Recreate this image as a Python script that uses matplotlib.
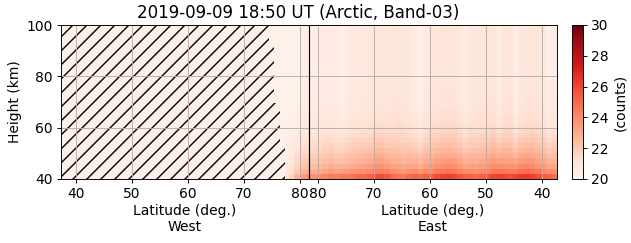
import numpy as np
import matplotlib
matplotlib.use("Agg")
import matplotlib.pyplot as plt
import matplotlib.transforms as mtransforms
from matplotlib.colors import Normalize

# ---------------- data ----------------
turn_lat = 81.6  # highest latitude of the track (pole line)

heights = [41, 43, 45, 47, 49, 51, 53, 55, 57, 59, 61, 63, 65, 67, 69,
           71, 73, 75, 77, 79, 81, 83, 85, 87, 89, 91, 93, 95, 97, 99]
profile = [1.00, 0.72, 0.58, 0.48, 0.40, 0.33, 0.27, 0.22, 0.17, 0.13,
           0.10, 0.07, 0.05, 0.035, 0.025, 0.015, 0.01, 0.0, 0.0, 0.0,
           0.0, 0.0, 0.0, 0.0, 0.0, 0.0, 0.0, 0.0, 0.0, 0.0]

west_lat = [77.5, 78.5, 79.5, 80.5, 81.5]
west_top = [20.3, 20.3, 20.3, 20.4, 20.4]
west_bottom = [21.0, 21.7, 22.7, 23.5, 23.8]

east_lat = [80.7, 79.7, 78.7, 77.7, 76.7, 75.7, 74.7, 73.7, 72.7, 71.7,
            70.7, 69.7, 68.7, 67.7, 66.7, 65.7, 64.7, 63.7, 62.7, 61.7,
            60.7, 59.7, 58.7, 57.7, 56.7, 55.7, 54.7, 53.7, 52.7, 51.7,
            50.7, 49.7, 48.7, 47.7, 46.7, 45.7, 44.7, 43.7, 42.7, 41.7,
            40.7, 39.7, 38.7, 37.7]
east_top = [20.5, 20.5, 20.6, 20.6, 20.5, 20.3, 20.6, 20.7, 20.7, 20.8,
            20.8, 20.9, 20.9, 20.8, 20.9, 21.0, 20.9, 20.8, 20.5, 20.3,
            20.7, 20.9, 20.9, 21.0, 21.0, 21.0, 20.8, 20.5, 20.8, 20.9,
            20.9, 20.9, 21.0, 20.6, 20.9, 21.0, 20.4, 20.8, 20.9, 21.0,
            20.9, 20.8, 20.4, 20.7]
east_bottom = [23.8, 24.0, 24.2, 24.5, 24.3, 24.6, 24.5, 24.8, 25.0, 25.0,
               25.3, 25.8, 25.8, 25.5, 25.0, 24.8, 24.6, 25.0, 25.2, 25.0,
               25.3, 25.4, 25.8, 26.0, 26.2, 26.0, 25.6, 25.3, 25.2, 25.0,
               25.3, 25.6, 26.0, 26.2, 26.0, 25.8, 26.0, 26.3, 26.4, 26.2,
               25.8, 25.5, 25.3, 25.0]

# masked (hatched) west region: boundary latitude per height band
hatch_heights = [40, 52.5, 69.6, 94, 100]
hatch_edge_lat = [77.4, 76.4, 75.4, 74.4, 74.4]

west_ticks = [40, 50, 60, 70, 80]
east_ticks = [80, 70, 60, 50, 40]

vmin, vmax = 20, 30
cbar_ticks = [20, 22, 24, 26, 28, 30]

# ---------------- build grid ----------------
path_x = np.concatenate([np.array(west_lat), 2 * turn_lat - np.array(east_lat)])
top = np.concatenate([west_top, east_top])
bottom = np.concatenate([west_bottom, east_bottom])
prof = np.array(profile)
Z = top[None, :] + (bottom - top)[None, :] * prof[:, None]

# ---------------- figure ----------------
dpi = 84
scale = 100 / dpi
plt.rcParams["font.size"] = 10 * scale
plt.rcParams["hatch.linewidth"] = 1.2

fig = plt.figure(figsize=(631 / dpi, 243 / dpi), dpi=dpi)
ax = fig.add_axes([61 / 631, 1 - 179 / 243, 496 / 631, 154 / 243])
cax = fig.add_axes([572 / 631, 1 - 179 / 243, 11 / 631, 154 / 243])

cmap = plt.get_cmap("Reds")
norm = Normalize(vmin=vmin, vmax=vmax)
ax.set_facecolor(cmap(norm(20.3)))

mesh = ax.pcolormesh(path_x, heights, Z, cmap=cmap, norm=norm, shading="nearest")

ax.fill_betweenx(hatch_heights, 30, hatch_edge_lat, step="post",
                 facecolor=cmap(norm(20.3)), edgecolor="black", linewidth=0,
                 hatch="//", zorder=1.2)

x_left = 37.3
x_right = 2 * turn_lat - 37.3
ax.set_xlim(x_left, x_right)
ax.set_ylim(40, 100)
ax.set_yticks([40, 60, 80, 100])

xt = list(west_ticks) + [2 * turn_lat - v for v in east_ticks]
xl = [str(v) for v in west_ticks] + [str(v) for v in east_ticks]
ax.set_xticks(xt)
ax.set_xticklabels(xl)
ax.grid(True)
ax.axvline(turn_lat, color="black", linewidth=1.0, zorder=3)
ax.set_ylabel("Height (km)")

trans = mtransforms.blended_transform_factory(ax.transData, fig.transFigure)
ax.text((x_left + turn_lat) / 2, 1 - 219 / 243, "Latitude (deg.)\nWest",
        transform=trans, ha="center", va="center", multialignment="center")
ax.text((x_right + turn_lat) / 2, 1 - 219 / 243, "Latitude (deg.)\nEast",
        transform=trans, ha="center", va="center", multialignment="center")

fig.text(298 / 631, 1 - 12.5 / 243, "2019-09-09 18:50 UT (Arctic, Band-03)",
         ha="center", va="center", fontsize=12 * scale)

cb = fig.colorbar(mesh, cax=cax)
cb.set_ticks(cbar_ticks)
cb.set_label("(counts)")

fig.savefig("out.png", dpi=dpi)
